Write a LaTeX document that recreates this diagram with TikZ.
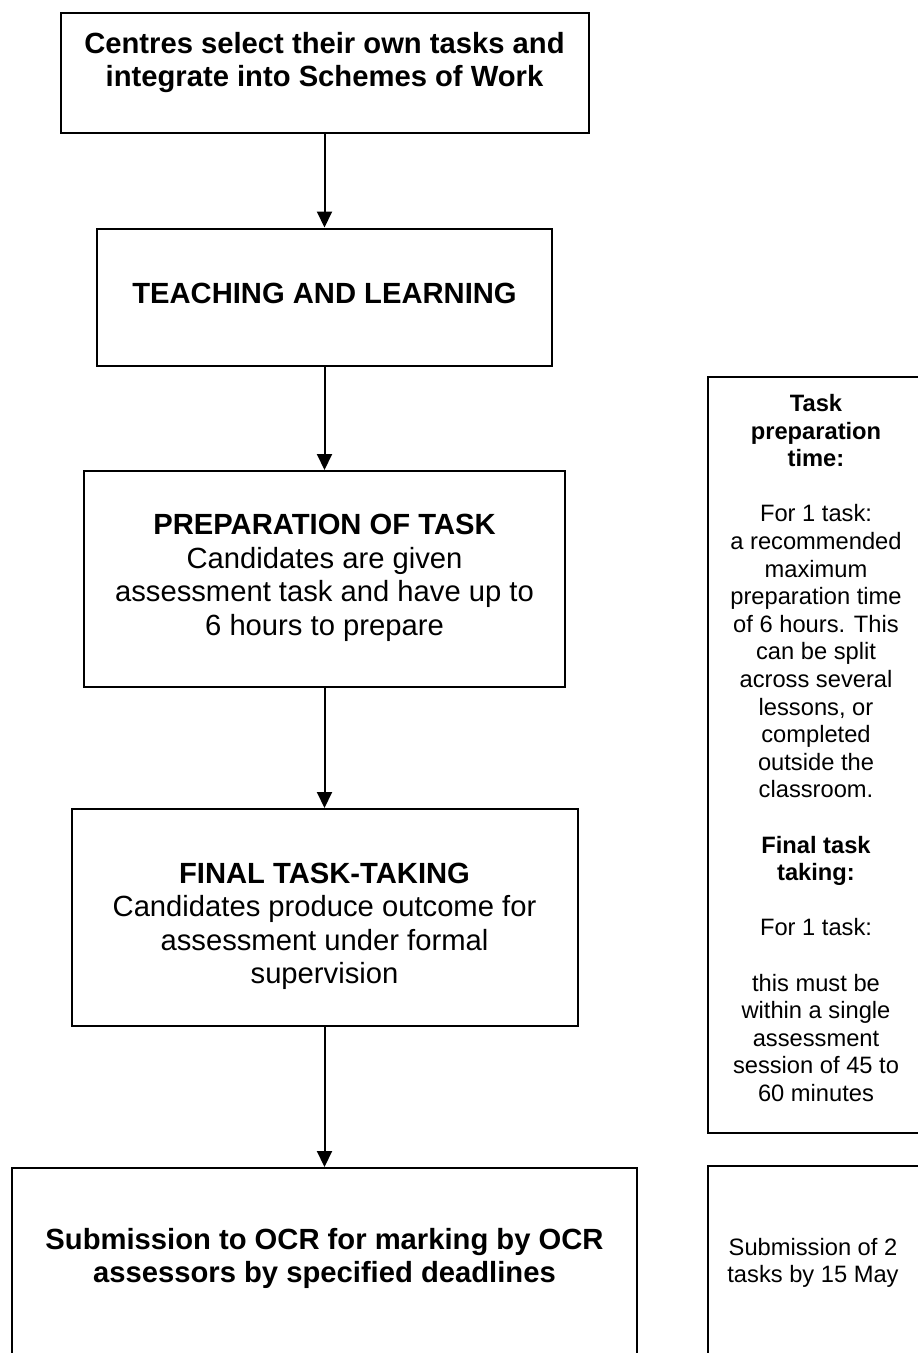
\documentclass[tikz,border=0pt]{standalone}
\usepackage{fontspec}
\setmainfont{Liberation Sans}
\usetikzlibrary{arrows.meta}
\tikzset{
  boxnode/.style={draw=black, line width=2pt, rectangle, inner sep=0pt},
  bigtxt/.style={align=center, inner sep=0pt, font=\fontsize{29.2}{33.5}\selectfont},
  smalltxt/.style={align=center, inner sep=0pt, font=\fontsize{23.7}{27.6}\selectfont},
  flowarrow/.style={line width=2pt, -{Triangle[length=16pt,width=15pt]}}
}
\begin{document}
\begin{tikzpicture}[x=1pt,y=-1pt]
\clip (0,0) rectangle (918,1353);
\fill[white] (0,0) rectangle (918,1353);
% main boxes
\node[boxnode, minimum width=528pt, minimum height=120pt] (b1) at (324.5,73) {};
\node[boxnode, minimum width=455pt, minimum height=137pt] (b2) at (324.5,297) {};
\node[boxnode, minimum width=481pt, minimum height=216pt] (b3) at (324.5,579) {};
\node[boxnode, minimum width=506pt, minimum height=217pt] (b4) at (324.5,917.5) {};
\node[boxnode, minimum width=625pt, minimum height=232pt] (b5) at (324.5,1284) {};
% side boxes
\node[boxnode, minimum width=218pt, minimum height=756pt] (r1) at (817,755) {};
\node[boxnode, minimum width=218pt, minimum height=234pt] (r2) at (817,1283) {};
% texts
\node[bigtxt] (t1) at (324.5,62.5) {\bfseries Centres select their own tasks and\\\bfseries integrate into Schemes of Work};
\node[bigtxt] (t2) at (324.5,293) {\bfseries TEACHING AND LEARNING};
\node[bigtxt] (t3) at (324.5,578) {\bfseries PREPARATION OF TASK\\Candidates are given\\assessment task and have up to\\6 hours to prepare};
\node[bigtxt] (t4) at (324.5,926.5) {\bfseries FINAL TASK-TAKING\\Candidates produce outcome for\\assessment under formal\\supervision};
\node[bigtxt] (t5) at (324.5,1258.5) {\bfseries Submission to OCR for marking by OCR\\\bfseries assessors by specified deadlines};
\node[smalltxt] (s1) at (816,748) {\bfseries Task\\\bfseries preparation\\\bfseries time:\\[27.6pt]
For 1 task:\\a recommended\\maximum\\preparation time\\of 6 hours. This\\can be split\\across several\\lessons, or\\completed\\outside the\\classroom.\\[27.6pt]
\bfseries Final task\\\bfseries taking:\\[27.6pt]
For 1 task:\\[27.6pt]
this must be\\within a single\\assessment\\session of 45 to\\60 minutes};
\node[smalltxt] (s2) at (813,1263) {Submission of 2\\tasks by 15 May};
% connectors
\draw[flowarrow] (b1.south) -- (b2.north);
\draw[flowarrow] (b2.south) -- (b3.north);
\draw[flowarrow] (b3.south) -- (b4.north);
\draw[flowarrow] (b4.south) -- (b5.north);
\end{tikzpicture}
\end{document}
